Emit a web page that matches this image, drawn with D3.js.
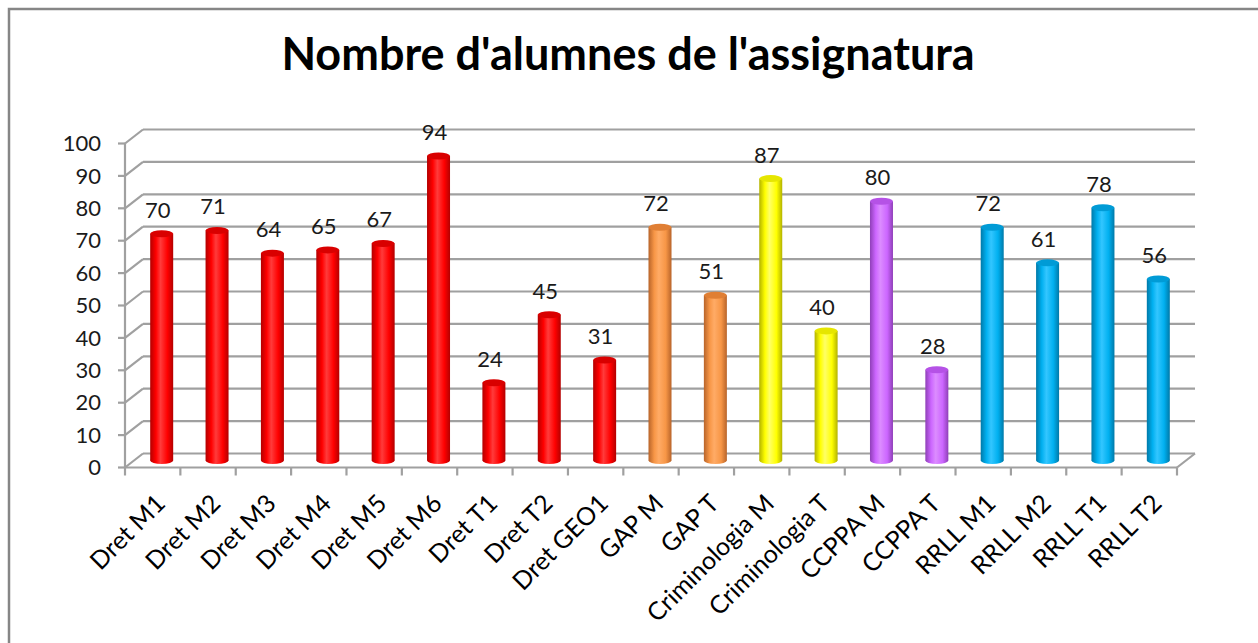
<!DOCTYPE html>
<html>
<head>
<meta charset="utf-8">
<script src="https://cdn.jsdelivr.net/npm/d3@7"></script>
<style>
  body { margin: 0; background: #fff; }
  svg { display: block; }
</style>
</head>
<body>
<svg id="chart" width="1258" height="643"></svg>
<script>
// data
var categories = ['Dret M1','Dret M2','Dret M3','Dret M4','Dret M5','Dret M6','Dret T1','Dret T2','Dret GEO1',
  'GAP M','GAP T','Criminologia M','Criminologia T','CCPPA M','CCPPA T','RRLL M1','RRLL M2','RRLL T1','RRLL T2'];
var students = [70,71,64,65,67,94,24,45,31,72,51,87,40,80,28,72,61,78,56];
var groups = ['Dret','Dret','Dret','Dret','Dret','Dret','Dret','Dret','Dret',
  'GAP','GAP','Crim','Crim','CCPPA','CCPPA','RRLL','RRLL','RRLL','RRLL'];
var yTicks = [0,10,20,30,40,50,60,70,80,90,100];

var groupColors = {
  Dret:  {base:'#ff0000', dark:'#b30000', light:'#ff3b3b', top:'#d90000'},
  GAP:   {base:'#f79646', dark:'#b8642a', light:'#ffab66', top:'#e07f34'},
  Crim:  {base:'#ffff00', dark:'#b3b300', light:'#ffff66', top:'#e6e600'},
  CCPPA: {base:'#cc66ff', dark:'#8f3fb8', light:'#dc8cff', top:'#b552e6'},
  RRLL:  {base:'#00b0f0', dark:'#0079a8', light:'#33c6ff', top:'#009bd6'}
};

var svg = d3.select('#chart');
var left = 125, right = 1177;
var depthX = 18, depthY = -14;
var barWidth = 23;

var x = d3.scaleBand().domain(categories).range([left, right]).padding(0);
var y = d3.scaleLinear().domain([0, 100]).range([467.5, 143.5]);

// outer chart border
svg.append('rect')
  .attr('x', 9).attr('y', 9)
  .attr('width', 1300).attr('height', 700)
  .attr('fill', 'none')
  .attr('stroke', '#868686')
  .attr('stroke-width', 2.5);

// title
svg.append('text')
  .attr('x', 628).attr('y', 70)
  .attr('text-anchor', 'middle')
  .attr('font-family', 'Lato, sans-serif')
  .attr('font-weight', 'bold')
  .attr('font-size', 45)
  .attr('fill', '#000')
  .text("Nombre d'alumnes de l'assignatura");

// gradients for the cylinders
var defs = svg.append('defs');
Object.keys(groupColors).forEach(function(k){
  var c = groupColors[k];
  var g = defs.append('linearGradient').attr('id', 'cyl-' + k)
    .attr('x1', '0%').attr('x2', '100%').attr('y1', '0%').attr('y2', '0%');
  g.append('stop').attr('offset', '0%').attr('stop-color', c.dark);
  g.append('stop').attr('offset', '25%').attr('stop-color', c.base);
  g.append('stop').attr('offset', '45%').attr('stop-color', c.light);
  g.append('stop').attr('offset', '75%').attr('stop-color', c.base);
  g.append('stop').attr('offset', '100%').attr('stop-color', c.dark);
});

var gridColor = '#a0a0a0';
var grid = svg.append('g');

// back wall lines + left side wall diagonals
grid.selectAll('line.back').data(yTicks).enter().append('line')
  .attr('x1', left + depthX).attr('x2', right + depthX)
  .attr('y1', function(d){ return y(d) + depthY; })
  .attr('y2', function(d){ return y(d) + depthY; })
  .attr('stroke', gridColor).attr('stroke-width', 2.2);
grid.selectAll('line.side').data(yTicks).enter().append('line')
  .attr('x1', left).attr('x2', left + depthX)
  .attr('y1', function(d){ return y(d); })
  .attr('y2', function(d){ return y(d) + depthY; })
  .attr('stroke', gridColor).attr('stroke-width', 2.2);

// floor front edge and right edge
grid.append('line')
  .attr('x1', left).attr('x2', right)
  .attr('y1', y(0)).attr('y2', y(0))
  .attr('stroke', gridColor).attr('stroke-width', 2.2);
grid.append('line')
  .attr('x1', right).attr('x2', right + depthX)
  .attr('y1', y(0)).attr('y2', y(0) + depthY)
  .attr('stroke', gridColor).attr('stroke-width', 2.2);

// front vertical axis with ticks
grid.append('line')
  .attr('x1', left).attr('x2', left)
  .attr('y1', y(100)).attr('y2', y(0))
  .attr('stroke', gridColor).attr('stroke-width', 2.2);
grid.selectAll('line.ytick').data(yTicks).enter().append('line')
  .attr('x1', left - 7).attr('x2', left)
  .attr('y1', function(d){ return y(d); })
  .attr('y2', function(d){ return y(d); })
  .attr('stroke', gridColor).attr('stroke-width', 2.2);

// x ticks at band boundaries
var xBounds = categories.map(function(c){ return x(c); }).concat([right]);
grid.selectAll('line.xtick').data(xBounds).enter().append('line')
  .attr('x1', function(d){ return d; }).attr('x2', function(d){ return d; })
  .attr('y1', y(0)).attr('y2', y(0) + 8)
  .attr('stroke', gridColor).attr('stroke-width', 2.2);

// y tick labels
svg.append('g').selectAll('text').data(yTicks).enter().append('text')
  .attr('x', 101)
  .attr('y', function(d){ return y(d); })
  .attr('dy', '0.35em')
  .attr('text-anchor', 'end')
  .attr('font-family', 'Lato, sans-serif')
  .attr('font-size', 22)
  .attr('fill', '#1a1a1a')
  .text(function(d){ return d; });

// cylinders, drawn on the middle depth plane
var bars = svg.append('g');
var rx = barWidth / 2, ry = 3.5;
function cx(i){ return x(categories[i]) + x.bandwidth() / 2 + depthX / 2; }
function yMid(v){ return y(v) + depthY / 2; }

var cyl = bars.selectAll('g').data(students).enter().append('g');
cyl.append('ellipse')
  .attr('cx', function(d, i){ return cx(i); })
  .attr('cy', yMid(0))
  .attr('rx', rx).attr('ry', ry)
  .attr('fill', function(d, i){ return 'url(#cyl-' + groups[i] + ')'; });
cyl.append('rect')
  .attr('x', function(d, i){ return cx(i) - rx; })
  .attr('y', function(d){ return yMid(d); })
  .attr('width', barWidth)
  .attr('height', function(d){ return yMid(0) - yMid(d); })
  .attr('fill', function(d, i){ return 'url(#cyl-' + groups[i] + ')'; });
cyl.append('ellipse')
  .attr('cx', function(d, i){ return cx(i); })
  .attr('cy', function(d){ return yMid(d); })
  .attr('rx', rx).attr('ry', ry)
  .attr('fill', function(d, i){ return groupColors[groups[i]].top; });

// value labels
svg.append('g').selectAll('text').data(students).enter().append('text')
  .attr('x', function(d, i){ return cx(i) - 4; })
  .attr('y', function(d){ return yMid(d) - 16; })
  .attr('text-anchor', 'middle')
  .attr('font-family', 'Lato, sans-serif')
  .attr('font-size', 22)
  .attr('fill', '#1a1a1a')
  .text(function(d){ return d; });

// category labels, rotated
svg.append('g').selectAll('text').data(categories).enter().append('text')
  .attr('transform', function(d){
    var px = x(d) + x.bandwidth() / 2 + 14, py = 505;
    return 'translate(' + px + ',' + py + ') rotate(-45)';
  })
  .attr('text-anchor', 'end')
  .attr('font-family', 'Lato, sans-serif')
  .attr('font-size', 25)
  .attr('fill', '#000')
  .text(function(d){ return d; });
</script>
</body>
</html>
